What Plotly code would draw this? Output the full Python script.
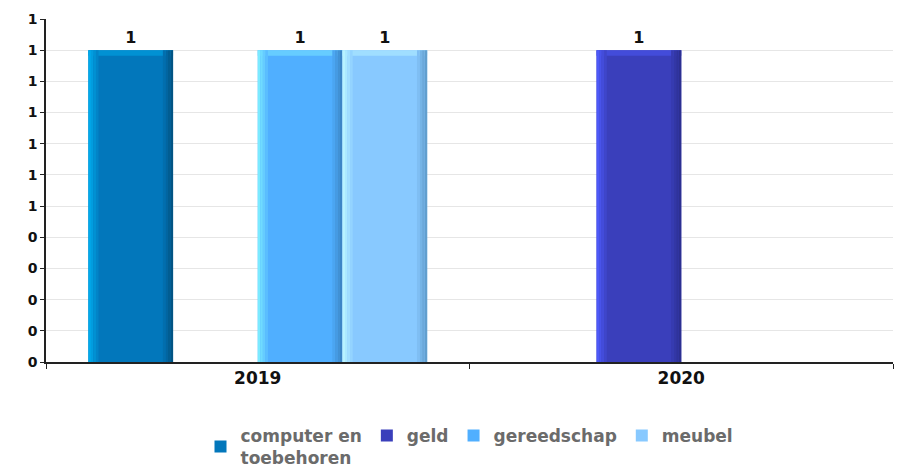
import plotly.graph_objects as go

# Data
years = ["2019", "2020"]
series_names = ["computer en<br>toebehoren", "geld", "gereedschap", "meubel"]
computer = [1, None]
geld = [None, 1]
gereedschap = [1, None]
meubel = [1, None]
y_tickvals = [0, 0.1, 0.2, 0.3, 0.4, 0.5, 0.6, 0.7, 0.8, 0.9, 1.0, 1.1]
y_ticktext = ["0", "0", "0", "0", "0", "1", "1", "1", "1", "1", "1", "1"]

values = [computer, geld, gereedschap, meubel]

# Colours per series: main, light edge, dark edge
palette = [
    ("#0277BB", "#00B0F0", "#02507E"),
    ("#3A3FBB", "#4F5CFF", "#2A2D8C"),
    ("#50AFFF", "#80F0FF", "#3A82C0"),
    ("#88C9FF", "#BDF8FF", "#5E9AC8"),
]


def hex2rgb(h):
    h = h.lstrip("#")
    return tuple(int(h[i:i + 2], 16) for i in (0, 2, 4))


def mix(a, b, t):
    ra, rb = hex2rgb(a), hex2rgb(b)
    return "rgb(%d,%d,%d)" % tuple(round(ra[i] + (rb[i] - ra[i]) * t) for i in range(3))


slot = 0.2           # width of one bar in category units
edge = 0.024         # bevel width (category units)
top_h = 0.018        # top bevel height (value units)
n_steps = 4

fig = go.Figure()


def bold(size, color="#111111"):
    return dict(family="DejaVu Sans", size=size, color=color, weight="bold")


for i, (name, vals) in enumerate(zip(series_names, values)):
    main, light, dark = palette[i]
    off = -0.4 + slot * i
    # main body with its value label
    fig.add_trace(go.Bar(
        x=years, y=vals, name=name, legendgroup=name,
        offset=off, width=slot, marker=dict(color=main, line=dict(width=0)),
        text=[("%d" % v) if v is not None else None for v in vals],
        textposition="outside", textfont=bold(16), cliponaxis=False,
    ))
    # top bevel
    fig.add_trace(go.Bar(
        x=years, y=[top_h if v is not None else None for v in vals],
        base=[v - top_h if v is not None else None for v in vals],
        offset=off, width=slot, showlegend=False, legendgroup=name, hoverinfo="skip",
        marker=dict(color=mix(main, light, 0.45), line=dict(width=0)),
    ))
    # left highlight and right shade gradients
    sw = edge / n_steps
    for k in range(n_steps):
        t = 1 - k / n_steps
        fig.add_trace(go.Bar(
            x=years, y=vals, offset=off + k * sw, width=sw * 1.02,
            showlegend=False, legendgroup=name, hoverinfo="skip",
            marker=dict(color=mix(main, light, t * 0.9), line=dict(width=0)),
        ))
        fig.add_trace(go.Bar(
            x=years, y=vals, offset=off + slot - (k + 1) * sw, width=sw * 1.02,
            showlegend=False, legendgroup=name, hoverinfo="skip",
            marker=dict(color=mix(main, dark, t * 0.9), line=dict(width=0)),
        ))

fig.update_layout(
    width=903, height=468,
    margin=dict(l=46, r=10, t=19, b=106, autoexpand=False),
    barmode="overlay",
    plot_bgcolor="white", paper_bgcolor="white",
    font=dict(family="DejaVu Sans", size=14, color="#111111"),
    showlegend=True,
    legend=dict(
        orientation="h", x=0.5, xanchor="center",
        yref="container", y=0.045, yanchor="middle",
        font=bold(17, "#6b6b6b"),
        itemclick=False, traceorder="normal", tracegroupgap=0,
    ),
)

fig.update_xaxes(
    type="category", showline=True, linecolor="#222222", linewidth=1.5,
    ticks="outside", tickson="boundaries", ticklen=5, tickcolor="#222222",
    showgrid=False, tickfont=bold(17), range=[-0.5, 1.5],
)
fig.update_yaxes(
    range=[0, 1.1], tickvals=y_tickvals, ticktext=y_ticktext,
    showline=True, linecolor="#222222", linewidth=1.5,
    ticks="outside", ticklen=4, tickcolor="#222222",
    showgrid=True, gridcolor="#e6e6e6", zeroline=False,
    tickfont=bold(14),
)

fig.write_html("out.html")
